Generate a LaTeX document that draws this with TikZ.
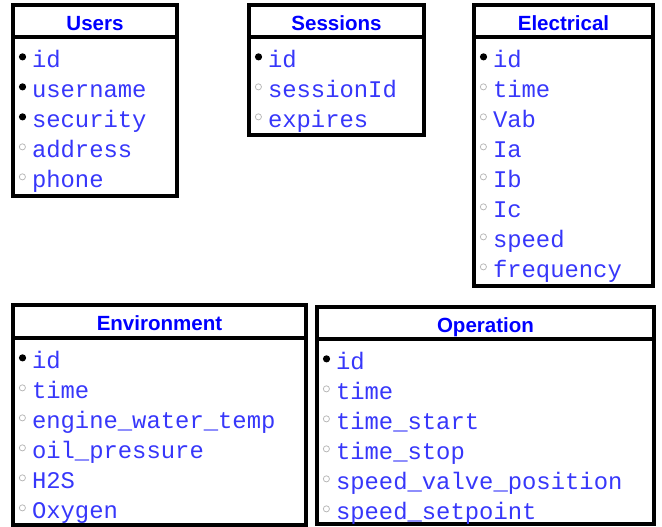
\documentclass[tikz,border=0pt]{standalone}
\usepackage{fontspec}
\setmainfont{Liberation Sans}
\setmonofont{Liberation Mono}
\usetikzlibrary{positioning}

\definecolor{fieldblue}{RGB}{55,55,250}

\tikzset{
  tablehead/.style={draw, line width=2.5pt, outer sep=0pt, inner sep=0pt, anchor=north west,
    minimum height=24pt, text height=14pt, text depth=0pt, text=blue,
    font=\fontsize{15.4}{18}\selectfont\bfseries},
  tablebody/.style={draw, line width=2.5pt, outer sep=0pt, inner sep=0pt},
  field/.style={inner sep=0pt, outer sep=0pt, text height=15pt, text depth=7.5pt,
    text=fieldblue, font=\ttfamily\fontsize{17.9}{21}\selectfont},
  nextrow/.style={below=0pt of #1.south west, anchor=north west},
  keydot/.style={circle, fill=black, inner sep=0pt, minimum size=5.4pt, xshift=-4.2pt, yshift=4.6pt},
  datadot/.style={circle, draw=gray!55, line width=0.6pt, inner sep=0pt, minimum size=4.6pt,
    xshift=-4.6pt, yshift=4.6pt},
  keyfield/.style={field, label={[keydot]west:}},
  datafield/.style={field, label={[datadot]west:}}
}

\begin{document}
\begin{tikzpicture}[x=0.75pt, y=-0.75pt]
  \useasboundingbox (0,0) rectangle (662,527);

  % Users
  \node[tablehead, minimum width=123pt] (users) at (13,5) {Users};
  \node[tablebody, minimum width=123pt, minimum height=119.25pt, below=0pt of users] (usersb) {};
  \node[keyfield, anchor=base west] (u1) at ([shift={(19,31)}]usersb.north west) {id};
  \node[keyfield, nextrow=u1] (u2) {username};
  \node[keyfield, nextrow=u2] (u3) {security};
  \node[datafield, nextrow=u3] (u4) {address};
  \node[datafield, nextrow=u4] (u5) {phone};

  % Sessions
  \node[tablehead, minimum width=131.25pt] (sessions) at (249,5) {Sessions};
  \node[tablebody, minimum width=131.25pt, minimum height=73.5pt, below=0pt of sessions] (sessionsb) {};
  \node[keyfield, anchor=base west] (s1) at ([shift={(19,31)}]sessionsb.north west) {id};
  \node[datafield, nextrow=s1] (s2) {sessionId};
  \node[datafield, nextrow=s2] (s3) {expires};

  % Electrical
  \node[tablehead, minimum width=134.25pt] (elec) at (474,5) {Electrical};
  \node[tablebody, minimum width=134.25pt, minimum height=186.75pt, below=0pt of elec] (elecb) {};
  \node[keyfield, anchor=base west] (e1) at ([shift={(19,31)}]elecb.north west) {id};
  \node[datafield, nextrow=e1] (e2) {time};
  \node[datafield, nextrow=e2] (e3) {Vab};
  \node[datafield, nextrow=e3] (e4) {Ia};
  \node[datafield, nextrow=e4] (e5) {Ib};
  \node[datafield, nextrow=e5] (e6) {Ic};
  \node[datafield, nextrow=e6] (e7) {speed};
  \node[datafield, nextrow=e7] (e8) {frequency};

  % Environment
  \node[tablehead, minimum width=219.75pt, minimum height=24.75pt] (env) at (13,305) {Environment};
  \node[tablebody, minimum width=219.75pt, minimum height=140.25pt, below=0pt of env] (envb) {};
  \node[keyfield, anchor=base west] (v1) at ([shift={(19,31)}]envb.north west) {id};
  \node[datafield, nextrow=v1] (v2) {time};
  \node[datafield, nextrow=v2] (v3) {engine\_water\_temp};
  \node[datafield, nextrow=v3] (v4) {oil\_pressure};
  \node[datafield, nextrow=v4] (v5) {H2S};
  \node[datafield, nextrow=v5] (v6) {Oxygen};

  % Operation
  \node[tablehead, minimum width=252.75pt] (oper) at (317,307) {Operation};
  \node[tablebody, minimum width=252.75pt, minimum height=138.75pt, below=0pt of oper] (operb) {};
  \node[keyfield, anchor=base west] (o1) at ([shift={(19,31)}]operb.north west) {id};
  \node[datafield, nextrow=o1] (o2) {time};
  \node[datafield, nextrow=o2] (o3) {time\_start};
  \node[datafield, nextrow=o3] (o4) {time\_stop};
  \node[datafield, nextrow=o4] (o5) {speed\_valve\_position};
  \node[datafield, nextrow=o5] (o6) {speed\_setpoint};
\end{tikzpicture}
\end{document}
